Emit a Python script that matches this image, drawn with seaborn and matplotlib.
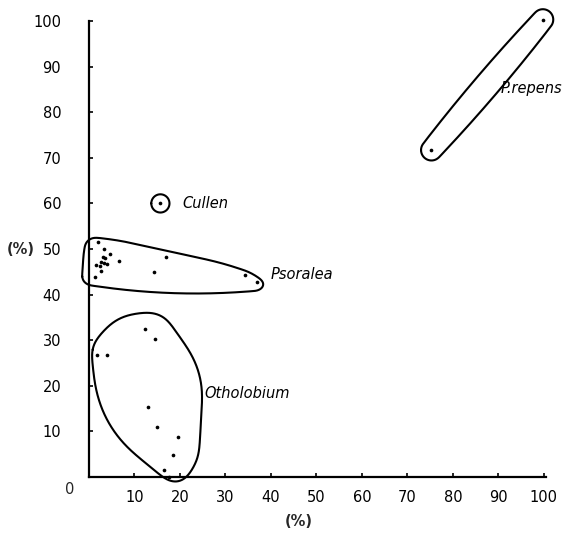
import numpy as np
import pandas as pd
import matplotlib
matplotlib.use("Agg")
import matplotlib.pyplot as plt
import seaborn as sns

# ---- data ----
psoralea_x = [2.0, 3.3, 4.7, 17.0, 6.6, 3.0, 3.5, 2.6, 3.3, 3.9, 1.5, 2.4, 2.6, 1.3, 14.4, 34.3, 37.0]
psoralea_y = [51.6, 49.9, 48.9, 48.3, 47.4, 48.2, 48.0, 47.2, 47.0, 46.7, 46.6, 46.3, 45.2, 43.9, 45.0, 44.4, 42.7]
otholobium_x = [12.3, 14.5, 1.7, 3.9, 13.0, 15.0, 19.6, 18.5, 16.4, 17.7]
otholobium_y = [32.4, 30.3, 26.8, 26.8, 15.3, 11.0, 8.8, 4.8, 1.5, 0.1]
cullen_x = [15.7]
cullen_y = [60.0]
repens_x = [75.3, 99.8]
repens_y = [71.7, 100.3]

tick_values = [10, 20, 30, 40, 50, 60, 70, 80, 90, 100]
tick_labels = ["10", "20", "30", "40", "50", "60", "70", "80", "90", "100"]

groups = {
    "Psoralea": (psoralea_x, psoralea_y),
    "Otholobium": (otholobium_x, otholobium_y),
    "Cullen": (cullen_x, cullen_y),
    "P.repens": (repens_x, repens_y),
}
rows = []
for g, (xs, ys) in groups.items():
    for a, b in zip(xs, ys):
        rows.append({"group": g, "x": a, "y": b})
df = pd.DataFrame(rows)

# enclosure padding per group: (rx, ry, dx, dy), bulge, smoothing window, passes
encl = {
    "Psoralea": ((2.2, 1.4, -0.6, -0.5), 0.12, 35, 2),
    "Otholobium": ((2.7, 2.7, 1.5, 1.1), 0.6, 75, 3),
    "Cullen": ((2.0, 2.0, 0.0, 0.0), 0.0, 1, 1),
    "P.repens": ((2.3, 2.3, 0.0, 0.0), 0.05, 20, 1),
}


def hull(points):
    pts = sorted(set(map(tuple, np.round(points, 6))))
    def cross(o, a, b):
        return (a[0]-o[0])*(b[1]-o[1]) - (a[1]-o[1])*(b[0]-o[0])
    lower, upper = [], []
    for p in pts:
        while len(lower) >= 2 and cross(lower[-2], lower[-1], p) <= 0:
            lower.pop()
        lower.append(p)
    for p in reversed(pts):
        while len(upper) >= 2 and cross(upper[-2], upper[-1], p) <= 0:
            upper.pop()
        upper.append(p)
    return np.array(lower[:-1] + upper[:-1])


def densify(poly, per_unit=25):
    out = []
    n = len(poly)
    for i in range(n):
        p0, p1 = poly[i], poly[(i+1) % n]
        e = p1 - p0
        L = np.hypot(*e)
        if L == 0:
            continue
        m = max(1, int(L*per_unit))
        for s in np.linspace(0, 1, m, endpoint=False):
            out.append((p0 + s*e, L, s, e))
    return out


def outline(poly, k, win, passes, per_unit=25):
    pts = []
    for p, L, s, e in densify(poly, per_unit):
        nrm = np.array([e[1], -e[0]]) / L
        pts.append(p + k*L*s*(1-s)*nrm)
    h = hull(np.array(pts))
    out = np.array([d[0] for d in densify(h, per_unit)])
    if win > 1:
        kern = np.ones(win)/win
        for _ in range(passes):
            ext = np.vstack([out[-win:], out, out[:win]])
            sm = np.column_stack([np.convolve(ext[:, 0], kern, mode="same"),
                                  np.convolve(ext[:, 1], kern, mode="same")])
            out = sm[win:-win]
    return np.vstack([out, out[:1]])


sns.set_theme(style="ticks")
plt.rcParams["font.family"] = ["DejaVu Sans"]

fig = plt.figure(figsize=(5.76, 5.33), dpi=100)
ax = fig.add_axes([0.1545, 0.105, 0.7935, 0.8556])

sns.scatterplot(data=df, x="x", y="y", color="black", s=7, linewidth=0, ax=ax,
                legend=False, clip_on=False)

t = np.linspace(0, 2*np.pi, 160, endpoint=False)
for g, (xs, ys) in groups.items():
    (rx, ry, dx, dy), k, win, passes = encl[g]
    pts = []
    for a, b in zip(xs, ys):
        for ang in t:
            pts.append((a + dx + rx*np.cos(ang), b + dy + ry*np.sin(ang)))
    h = outline(hull(np.array(pts)), k, win, passes)
    ax.plot(h[:, 0], h[:, 1], color="black", lw=1.5, clip_on=False)

lab_style = dict(fontsize=10.5, style="italic", color="black", va="center", ha="left")
ax.text(20.6, 60.0, "Cullen", **lab_style)
ax.text(40.0, 44.5, "Psoralea", **lab_style)
ax.text(25.4, 18.4, "Otholobium", **lab_style)
ax.text(90.6, 85.3, "P.repens", **lab_style)

ax.set_xlim(0, 100.5)
ax.set_ylim(0, 100)
ax.set_xticks(tick_values)
ax.set_xticklabels(tick_labels)
ax.set_yticks(tick_values)
ax.set_yticklabels(tick_labels)
ax.tick_params(axis="both", direction="in", length=3, width=1.2, labelsize=10.5, colors="black")
ax.tick_params(axis="y", pad=20)
ax.tick_params(axis="x", pad=9)
for s in ["top", "right"]:
    ax.spines[s].set_visible(False)
for s in ["left", "bottom"]:
    ax.spines[s].set_linewidth(1.6)
    ax.spines[s].set_color("black")
ax.set_xlabel("")
ax.set_ylabel("")
ax.text(-4.2, -2.8, "0", fontsize=10.5, ha="center", va="center")
ax.text(46.2, -9.8, "(%)", fontsize=10.5, fontweight="bold", ha="center", va="center")
ax.text(-15, 50, "(%)", fontsize=10.5, fontweight="bold", ha="center", va="center")

fig.savefig("out.png", dpi=100)
